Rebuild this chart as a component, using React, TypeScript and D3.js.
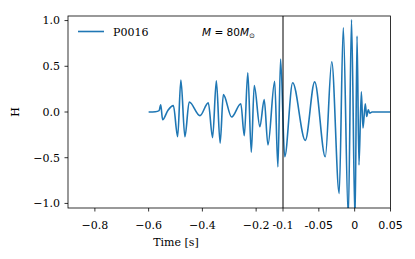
import React, { useEffect, useRef } from 'react';
import * as d3 from 'd3';

// waveform P0016 (extrema + a few shape points)
const times = [
  -0.6, -0.575, -0.561, -0.555, -0.548, -0.528, -0.508, -0.492, -0.48, -0.465,
  -0.449, -0.409, -0.378, -0.362, -0.348, -0.334, -0.322, -0.291, -0.257, -0.244,
  -0.231, -0.218, -0.207, -0.186, -0.17, -0.156, -0.131, -0.119, -0.109, -0.0976,
  -0.0865, -0.0689, -0.0558, -0.041, -0.032, -0.0216, -0.0159, -0.0089, -0.0044, 0.0005,
  0.0033, 0.006, 0.0093, 0.0116, 0.0148, 0.0168, 0.019, 0.021, 0.0242, 0.05,
];
const strain = [
  0, 0.003, 0.015, 0.08, -0.085, 0.02, 0.07, -0.27, 0.35, -0.27,
  0.11, -0.04, 0.1, -0.28, 0.34, -0.34, 0.19, -0.055, 0.09, -0.26,
  0.43, -0.44, 0.29, -0.16, 0.135, -0.36, 0.335, -0.6, 0.58, -0.49,
  0.32, -0.31, 0.33, -0.49, 0.55, -0.89, 0.92, -1.15, 1.01, -1.2,
  0.83, -0.58, 0.22, -0.175, 0.09, -0.05, 0.025, -0.012, 0, 0,
];

const xTicks = [-0.8, -0.6, -0.4, -0.2, -0.1, -0.05, 0, 0.05];
const xTickLabels = ['−0.8', '−0.6', '−0.4', '−0.2', '-0.1', '-0.05', '0', '0.05'];
const xTickSans = [false, false, false, false, false, true, true, true];
const yTicks = [1, 0.5, 0, -0.5, -1];
const yTickLabels = ['1.0', '0.5', '0.0', '−0.5', '−1.0'];

const SERIF = '"DejaVu Serif", serif';
const SANS = '"DejaVu Sans", sans-serif';

const App = () => {
  const svgRef = useRef<SVGSVGElement>(null);

  useEffect(() => {
    const svg = d3.select(svgRef.current);
    svg.selectAll('*').remove();

    const left = 68, right = 390.5, top = 16, bottom = 208;
    const xBreak = 283;

    // stretched scale: right of -0.1 is zoomed in
    const x = d3.scaleLinear().domain([-0.9, -0.1, 0.05]).range([left, xBreak, right]);
    const y = d3.scaleLinear().domain([-1.05, 1.05]).range([bottom, top]);

    svg.append('defs').append('clipPath').attr('id', 'plotclip')
      .append('rect').attr('x', left).attr('y', top)
      .attr('width', right - left).attr('height', bottom - top);

    const pts: [number, number][] = times.map((t, i) => [x(t), y(strain[i])]);
    const line = d3.line().curve(d3.curveMonotoneX);

    svg.append('path')
      .attr('clip-path', 'url(#plotclip)')
      .attr('d', line(pts))
      .attr('fill', 'none')
      .attr('stroke', '#1f77b4')
      .attr('stroke-width', 1.6)
      .attr('stroke-linejoin', 'round');

    // vertical marker at -0.1
    svg.append('line')
      .attr('x1', x(-0.1)).attr('x2', x(-0.1))
      .attr('y1', top).attr('y2', bottom)
      .attr('stroke', 'black').attr('stroke-width', 1);

    // frame
    svg.append('rect')
      .attr('x', left).attr('y', top)
      .attr('width', right - left).attr('height', bottom - top)
      .attr('fill', 'none').attr('stroke', 'black').attr('stroke-width', 0.8);

    // x ticks
    const xg = svg.append('g');
    xTicks.forEach((t, i) => {
      xg.append('line')
        .attr('x1', x(t)).attr('x2', x(t))
        .attr('y1', bottom).attr('y2', bottom + 3.5)
        .attr('stroke', 'black').attr('stroke-width', 0.8);
      xg.append('text')
        .attr('x', x(t)).attr('y', bottom + 20.5)
        .attr('text-anchor', 'middle')
        .attr('font-family', xTickSans[i] ? SANS : SERIF)
        .attr('font-size', 11)
        .text(xTickLabels[i]);
    });

    // y ticks
    const yg = svg.append('g');
    yTicks.forEach((v, i) => {
      yg.append('line')
        .attr('x1', left - 3.5).attr('x2', left)
        .attr('y1', y(v)).attr('y2', y(v))
        .attr('stroke', 'black').attr('stroke-width', 0.8);
      yg.append('text')
        .attr('x', left - 8).attr('y', y(v))
        .attr('dy', '0.35em')
        .attr('text-anchor', 'end')
        .attr('font-family', SERIF)
        .attr('font-size', 11)
        .text(yTickLabels[i]);
    });

    svg.append('text')
      .attr('x', 176).attr('y', 245.5)
      .attr('text-anchor', 'middle')
      .attr('font-family', SERIF).attr('font-size', 11)
      .text('Time [s]');

    svg.append('text')
      .attr('transform', `translate(19,${y(0)}) rotate(-90)`)
      .attr('text-anchor', 'middle')
      .attr('font-family', SERIF).attr('font-size', 11)
      .text('H');

    // legend
    svg.append('line')
      .attr('x1', 78).attr('x2', 104).attr('y1', 31.5).attr('y2', 31.5)
      .attr('stroke', '#1f77b4').attr('stroke-width', 1.6);
    svg.append('text')
      .attr('x', 113).attr('y', 35.5)
      .attr('font-family', SERIF).attr('font-size', 11)
      .text('P0016');

    // mass annotation
    const ann = svg.append('text')
      .attr('x', 202).attr('y', 36)
      .attr('font-family', SANS).attr('font-size', 10.5);
    ann.append('tspan').attr('font-style', 'italic').text('M');
    ann.append('tspan').text(' = 80');
    ann.append('tspan').attr('font-style', 'italic').text('M');
    ann.append('tspan').attr('font-size', 7).attr('dy', 2).text('⊙');
  }, []);

  return (
    <svg
      ref={svgRef}
      width={415}
      height={259}
      style={{ position: 'absolute', left: 0, top: 0, background: 'white' }}
    />
  );
};

export default App;
